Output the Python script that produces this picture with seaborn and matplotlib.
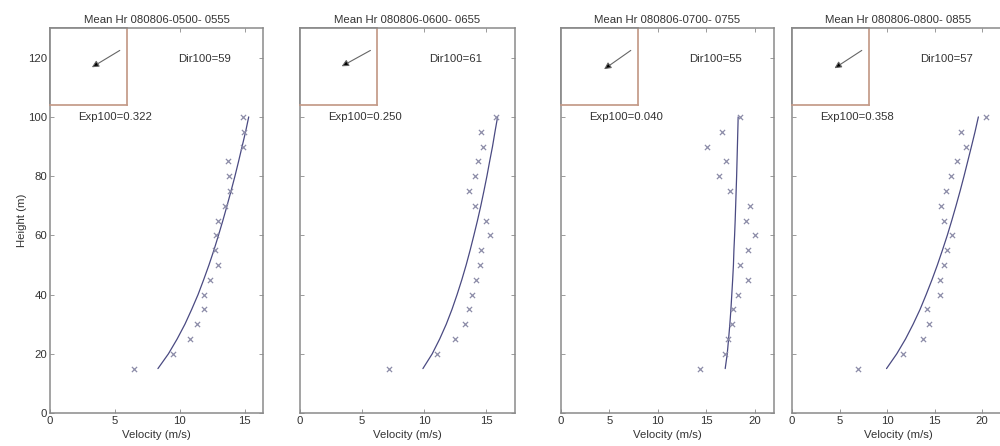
import numpy as np
import pandas as pd
import matplotlib
matplotlib.use('Agg')
import matplotlib.pyplot as plt
import seaborn as sns

# measured heights (m)
heights = [15, 20, 25, 30, 35, 40, 45, 50, 55, 60, 65, 70, 75, 80, 85, 90, 95, 100]

# measured velocities (m/s), one list per hour
vel_0500 = [6.5, 9.5, 10.8, 11.3, 11.85, 11.85, 12.3, 12.9, 12.7, 12.8, 12.9, 13.5, 13.85, 13.8, 13.7, 14.87, 14.9, 14.87]
vel_0600 = [7.2, 11.0, 12.5, 13.3, 13.6, 13.8, 14.2, 14.5, 14.6, 15.3, 14.96, 14.1, 13.6, 14.1, 14.3, 14.75, 14.6, 15.8]
vel_0700 = [14.4, 16.9, 17.3, 17.65, 17.8, 18.3, 19.3, 18.5, 19.3, 20.0, 19.1, 19.55, 17.5, 16.3, 17.0, 15.1, 16.6, 18.5]
vel_0800 = [6.9, 11.7, 13.8, 14.4, 14.2, 15.6, 15.6, 16.0, 16.3, 16.8, 16.0, 15.7, 16.2, 16.7, 17.3, 18.3, 17.8, 20.45]

# power-law fit profile (same heights)
fit_0500 = [8.31, 9.12, 9.79, 10.39, 10.91, 11.40, 11.83, 12.24, 12.62, 12.97, 13.31, 13.63, 13.94, 14.24, 14.52, 14.79, 15.06, 15.3]
fit_0600 = [9.89, 10.64, 11.24, 11.77, 12.23, 12.64, 13.02, 13.37, 13.69, 13.99, 14.28, 14.55, 14.80, 15.04, 15.26, 15.49, 15.69, 15.9]
fit_0700 = [16.96, 17.17, 17.31, 17.44, 17.55, 17.64, 17.73, 17.81, 17.86, 17.93, 17.99, 18.04, 18.09, 18.14, 18.18, 18.22, 18.26, 18.3]
fit_0800 = [9.94, 11.02, 11.94, 12.74, 13.47, 14.11, 14.72, 15.29, 15.82, 16.33, 16.80, 17.25, 17.68, 18.09, 18.48, 18.87, 19.25, 19.6]

titles = ['Mean Hr 080806-0500- 0555', 'Mean Hr 080806-0600- 0655',
          'Mean Hr 080806-0700- 0755', 'Mean Hr 080806-0800- 0855']
dir100 = [59, 61, 55, 57]
exp100 = ['0.322', '0.250', '0.040', '0.358']
x_max = [16.4, 17.3, 22.0, 22.4]

velocities = [vel_0500, vel_0600, vel_0700, vel_0800]
fits = [fit_0500, fit_0600, fit_0700, fit_0800]

sns.set_theme(style="ticks")
plt.rcParams['font.family'] = ['Liberation Sans', 'DejaVu Sans']

fig = plt.figure(figsize=(10, 4.46), dpi=100)
lefts = [0.050, 0.300, 0.561, 0.792]
widths = [0.213, 0.215, 0.213, 0.213]
spine_col = '#8a8a8a'
text_col = '#333333'
fs = 8.2

for i in range(4):
    ax = fig.add_axes([lefts[i], 0.074, widths[i], 0.863])
    pts = pd.DataFrame({'v': velocities[i], 'z': heights})
    fit = pd.DataFrame({'v': fits[i], 'z': heights})
    sns.scatterplot(data=pts, x='v', y='z', marker='x', s=14, color='#8c8ca8',
                    linewidth=0.9, ax=ax, zorder=3)
    sns.lineplot(data=fit, x='v', y='z', sort=False, color='#4a4a82',
                 linewidth=0.9, ax=ax)
    ax.set_xlim(0, x_max[i])
    ax.set_ylim(0, 130)
    ax.set_xticks(np.arange(0, x_max[i], 5))
    ax.set_yticks(np.arange(0, 121, 20))
    ax.tick_params(direction='in', top=True, right=True, length=3, width=0.6,
                   labelsize=fs, colors=spine_col, labelcolor=text_col, pad=2)
    for sp in ax.spines.values():
        sp.set_color(spine_col)
        sp.set_linewidth(1.1)
    ax.set_xlabel('Velocity (m/s)', fontsize=fs, color=text_col, labelpad=3)
    if i == 0:
        ax.set_ylabel('Height (m)', fontsize=fs, color=text_col, labelpad=1)
    else:
        ax.set_ylabel('')
        ax.set_yticklabels([])
    ax.set_title(titles[i], fontsize=fs, color=text_col, pad=4)
    ax.text(0.60, 0.92, 'Dir100=%d' % dir100[i], transform=ax.transAxes,
            fontsize=fs, color=text_col, va='center')
    ax.text(0.13, 0.77, 'Exp100=' + exp100[i], transform=ax.transAxes,
            fontsize=fs, color=text_col, va='center')

    # direction inset
    ins = ax.inset_axes([0, 0.8, 0.36, 0.2])
    ins.set_xlim(-1, 1)
    ins.set_ylim(-1, 1)
    ins.set_xticks([])
    ins.set_yticks([])
    ins.set_facecolor('white')
    ins.spines['top'].set_color(spine_col)
    ins.spines['left'].set_color(spine_col)
    ins.spines['right'].set_color('#c49a88')
    ins.spines['bottom'].set_color('#c49a88')
    ang = np.deg2rad(90 - (dir100[i] + 180))
    x0, y0 = 0.82, 0.42
    ins.annotate('', xy=(x0 + 0.85 * np.cos(ang), y0 + 0.85 * np.sin(ang)),
                 xytext=(x0, y0),
                 arrowprops=dict(arrowstyle='-|>', color='#666666', lw=0.8,
                                 mutation_scale=10, shrinkA=0, shrinkB=0,
                                 fc='black', ec='#666666'))

plt.savefig('out.png', dpi=100)
